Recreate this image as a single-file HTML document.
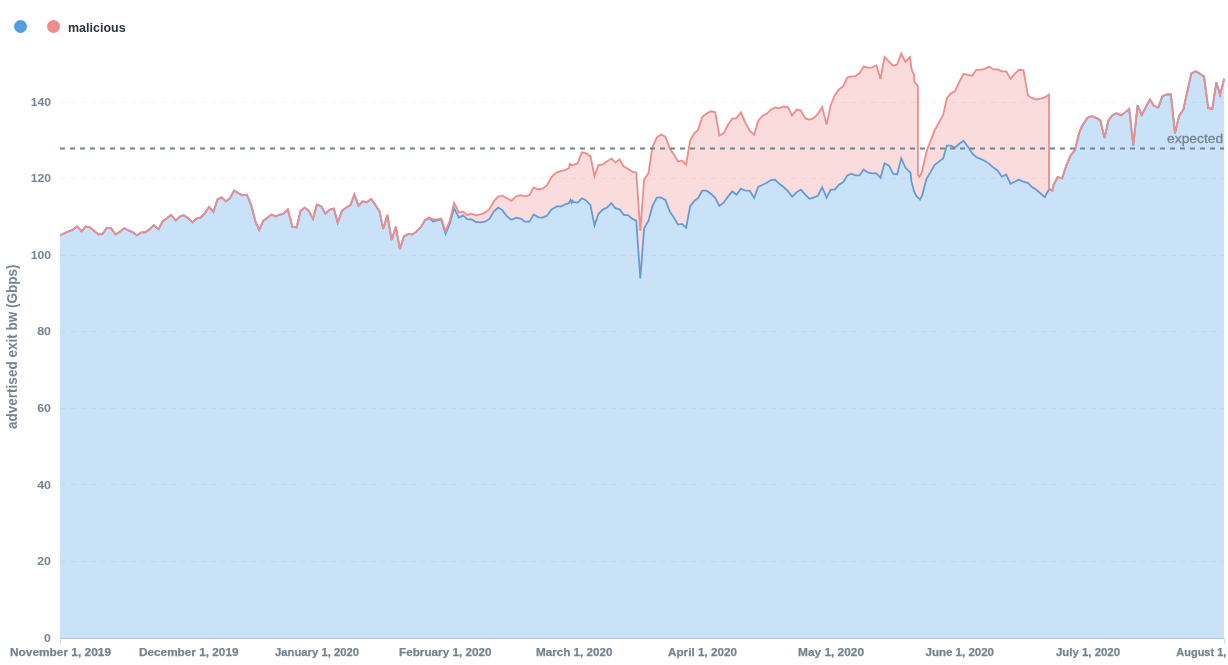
<!DOCTYPE html>
<html><head><meta charset="utf-8"><title>chart</title>
<style>
html,body{margin:0;padding:0;background:#fff;}
body{width:1228px;height:665px;overflow:hidden;font-family:"Liberation Sans",sans-serif;}
svg{display:block}
.tick{font-family:"Liberation Sans",sans-serif;font-weight:700;font-size:11.5px;fill:#74838f;stroke:#74838f;stroke-width:0.25px;}
.ytick{stroke:none;}
.leg{font-family:"Liberation Sans",sans-serif;font-weight:700;font-size:12.5px;fill:#2e353b;}
.ylab{font-family:"Liberation Sans",sans-serif;font-weight:700;font-size:14px;fill:#74838f;}
.goal{font-family:"Liberation Sans",sans-serif;font-weight:400;font-size:13px;fill:#74838f;stroke:#74838f;stroke-width:0.3px;}
</style></head><body>
<svg width="1228" height="665" viewBox="0 0 1228 665">
<rect width="1228" height="665" fill="#fff"/>
<circle cx="20.5" cy="26.5" r="6.5" fill="#509ee3"/>
<circle cx="53.5" cy="26.5" r="6.5" fill="#ef8c8c"/>
<text x="68" y="31.5" class="leg">malicious</text>
<g><line x1="61" x2="1224" y1="561.5" y2="561.5" stroke="#f0f2f5" stroke-width="1" stroke-dasharray="5,5"/>
<line x1="61" x2="1224" y1="484.5" y2="484.5" stroke="#f0f2f5" stroke-width="1" stroke-dasharray="5,5"/>
<line x1="61" x2="1224" y1="408.5" y2="408.5" stroke="#f0f2f5" stroke-width="1" stroke-dasharray="5,5"/>
<line x1="61" x2="1224" y1="331.5" y2="331.5" stroke="#f0f2f5" stroke-width="1" stroke-dasharray="5,5"/>
<line x1="61" x2="1224" y1="255.5" y2="255.5" stroke="#f0f2f5" stroke-width="1" stroke-dasharray="5,5"/>
<line x1="61" x2="1224" y1="178.5" y2="178.5" stroke="#f0f2f5" stroke-width="1" stroke-dasharray="5,5"/>
<line x1="61" x2="1224" y1="102.5" y2="102.5" stroke="#f0f2f5" stroke-width="1" stroke-dasharray="5,5"/>
</g>
<polyline points="60.0,235.2 64.3,233.3 68.5,231.4 72.8,229.6 77.1,226.4 81.7,231.4 85.7,226.4 89.9,227.4 94.0,230.8 98.6,234.6 102.7,233.7 106.8,227.7 111.2,228.3 115.6,234.6 120.0,231.4 124.3,228.3 128.5,230.4 132.5,232.1 136.9,235.5 141.3,232.3 145.3,232.3 149.4,229.6 153.8,225.2 158.6,229.2 162.6,221.4 166.9,218.3 171.1,214.9 175.8,220.5 180.2,216.4 183.9,215.2 188.1,218.3 192.4,222.4 197.1,218.3 200.8,217.4 204.6,213.6 209.0,207.0 213.4,212.0 217.5,199.5 221.6,197.4 225.9,201.4 230.0,198.2 234.1,190.5 238.5,193.2 242.6,195.3 246.9,194.7 251.2,205.1 255.4,221.4 259.2,230.0 263.2,220.8 267.3,217.7 271.5,214.5 275.7,216.4 279.9,214.5 283.3,213.9 287.8,209.5 292.4,226.7 296.6,227.4 300.6,210.8 304.7,207.6 308.8,210.8 313.0,218.9 316.9,204.5 321.3,206.4 325.4,213.7 329.8,209.5 333.8,208.6 337.7,222.7 341.9,210.8 346.3,207.4 350.5,205.1 354.4,194.4 358.5,205.7 362.5,201.3 366.9,202.3 371.1,199.1 375.1,204.5 379.5,211.4 383.2,228.9 387.4,214.9 391.6,240.0 395.8,226.7 399.9,249.0 403.9,236.4 408.3,233.9 412.4,234.6 416.5,231.4 420.9,227.0 425.0,220.2 429.0,217.9 433.1,221.4 437.2,220.4 441.3,219.5 445.6,233.9 449.9,223.3 454.1,208.2 458.9,217.6 463.1,215.4 467.3,219.1 471.6,219.5 476.0,222.0 480.4,222.4 484.8,221.7 489.4,218.9 493.8,211.4 498.2,207.6 502.4,210.1 507.0,216.3 511.5,219.8 516.2,217.6 520.6,218.6 525.0,221.6 529.4,221.6 533.7,214.4 538.4,217.3 542.5,217.6 546.9,215.7 551.5,209.4 555.0,207.5 557.0,206.2 560.9,206.5 564.8,204.5 568.7,203.2 570.6,199.7 571.6,202.6 572.6,200.6 573.9,202.1 577.8,202.6 581.7,198.4 585.6,199.9 590.5,205.2 594.5,225.4 598.3,214.0 602.6,209.6 607.1,207.5 611.4,203.2 615.3,208.1 619.5,209.4 624.1,215.0 628.0,215.1 632.5,218.9 636.3,220.7 640.3,278.4 644.1,228.2 648.5,220.7 652.3,206.4 656.7,197.6 661.0,197.4 665.4,199.9 669.8,211.4 673.6,217.0 678.0,224.6 682.0,223.9 686.1,227.7 690.1,206.4 694.3,200.7 698.0,198.2 702.2,190.7 706.6,190.7 711.0,193.8 715.2,197.9 719.4,205.8 723.8,202.4 728.1,196.3 732.3,191.3 736.5,194.7 740.9,188.6 745.5,190.7 749.8,190.7 754.1,197.9 758.2,186.9 762.6,184.8 766.8,182.8 771.2,179.8 775.2,179.8 779.3,183.8 783.6,186.9 788.0,191.1 792.1,196.6 796.8,192.1 800.9,189.6 805.3,194.6 809.3,198.7 813.4,197.7 817.8,195.9 822.2,187.1 826.6,197.7 830.7,189.6 834.8,189.6 838.9,184.6 843.2,182.1 847.3,175.4 851.4,173.7 855.5,175.4 859.5,175.4 863.6,169.5 868.0,172.4 872.0,173.3 876.4,173.3 880.5,177.7 884.5,163.2 888.9,165.4 893.1,173.7 897.1,174.5 901.2,158.2 905.4,167.6 910.6,172.9 911.5,181.4 912.5,185.2 914.1,191.5 916.3,195.9 920.0,199.6 922.2,195.2 926.3,179.2 930.4,172.4 934.5,165.1 938.9,161.6 943.1,158.5 946.8,145.7 950.8,145.7 954.9,147.6 959.2,143.8 963.6,140.7 967.7,146.3 972.1,153.2 976.2,157.0 980.5,158.9 984.6,160.7 989.0,163.6 993.4,167.6 997.6,170.4 1001.8,176.7 1006.2,174.5 1010.6,183.7 1014.7,181.7 1018.9,179.6 1023.5,181.7 1027.9,182.9 1032.0,187.1 1036.1,189.6 1040.4,193.3 1044.8,197.1 1049.0,189.2 1052.4,190.8 1053.6,184.9 1057.6,177.0 1062.1,178.3 1066.2,165.8 1070.5,155.7 1074.9,150.1 1079.3,132.5 1081.8,126.5 1087.5,117.7 1091.8,116.2 1096.0,117.9 1100.3,120.2 1104.5,138.0 1108.5,120.2 1112.5,115.2 1116.6,113.3 1121.0,115.4 1125.2,112.4 1129.2,109.1 1133.3,145.3 1137.6,105.1 1141.7,115.2 1145.9,107.0 1149.9,99.5 1153.9,105.8 1158.3,107.6 1162.4,96.1 1166.8,94.5 1170.9,94.5 1175.0,133.3 1179.1,115.8 1183.4,109.5 1187.5,90.7 1191.3,73.5 1195.4,71.3 1199.7,73.5 1204.0,76.5 1208.2,107.9 1212.3,108.9 1216.3,82.3 1220.1,94.8 1224.2,78.8" fill="none" stroke="#509ee3" stroke-width="1.8" stroke-linejoin="miter" stroke-linecap="butt"/>
<path d="M60,638 L60.0,235.2 L64.3,233.3 L68.5,231.4 L72.8,229.6 L77.1,226.4 L81.7,231.4 L85.7,226.4 L89.9,227.4 L94.0,230.8 L98.6,234.6 L102.7,233.7 L106.8,227.7 L111.2,228.3 L115.6,234.6 L120.0,231.4 L124.3,228.3 L128.5,230.4 L132.5,232.1 L136.9,235.5 L141.3,232.3 L145.3,232.3 L149.4,229.6 L153.8,225.2 L158.6,229.2 L162.6,221.4 L166.9,218.3 L171.1,214.9 L175.8,220.5 L180.2,216.4 L183.9,215.2 L188.1,218.3 L192.4,222.4 L197.1,218.3 L200.8,217.4 L204.6,213.6 L209.0,207.0 L213.4,212.0 L217.5,199.5 L221.6,197.4 L225.9,201.4 L230.0,198.2 L234.1,190.5 L238.5,193.2 L242.6,195.3 L246.9,194.7 L251.2,205.1 L255.4,221.4 L259.2,230.0 L263.2,220.8 L267.3,217.7 L271.5,214.5 L275.7,216.4 L279.9,214.5 L283.3,213.9 L287.8,209.5 L292.4,226.7 L296.6,227.4 L300.6,210.8 L304.7,207.6 L308.8,210.8 L313.0,218.9 L316.9,204.5 L321.3,206.4 L325.4,213.7 L329.8,209.5 L333.8,208.6 L337.7,222.7 L341.9,210.8 L346.3,207.4 L350.5,205.1 L354.4,194.4 L358.5,205.7 L362.5,201.3 L366.9,202.3 L371.1,199.1 L375.1,204.5 L379.5,211.4 L383.2,228.9 L387.4,214.9 L391.6,240.0 L395.8,226.7 L399.9,249.0 L403.9,236.4 L408.3,233.9 L412.4,234.6 L416.5,231.4 L420.9,227.0 L425.0,220.2 L429.0,217.9 L433.1,221.4 L437.2,220.4 L441.3,219.5 L445.6,233.9 L449.9,223.3 L454.1,208.2 L458.9,217.6 L463.1,215.4 L467.3,219.1 L471.6,219.5 L476.0,222.0 L480.4,222.4 L484.8,221.7 L489.4,218.9 L493.8,211.4 L498.2,207.6 L502.4,210.1 L507.0,216.3 L511.5,219.8 L516.2,217.6 L520.6,218.6 L525.0,221.6 L529.4,221.6 L533.7,214.4 L538.4,217.3 L542.5,217.6 L546.9,215.7 L551.5,209.4 L555.0,207.5 L557.0,206.2 L560.9,206.5 L564.8,204.5 L568.7,203.2 L570.6,199.7 L571.6,202.6 L572.6,200.6 L573.9,202.1 L577.8,202.6 L581.7,198.4 L585.6,199.9 L590.5,205.2 L594.5,225.4 L598.3,214.0 L602.6,209.6 L607.1,207.5 L611.4,203.2 L615.3,208.1 L619.5,209.4 L624.1,215.0 L628.0,215.1 L632.5,218.9 L636.3,220.7 L640.3,278.4 L644.1,228.2 L648.5,220.7 L652.3,206.4 L656.7,197.6 L661.0,197.4 L665.4,199.9 L669.8,211.4 L673.6,217.0 L678.0,224.6 L682.0,223.9 L686.1,227.7 L690.1,206.4 L694.3,200.7 L698.0,198.2 L702.2,190.7 L706.6,190.7 L711.0,193.8 L715.2,197.9 L719.4,205.8 L723.8,202.4 L728.1,196.3 L732.3,191.3 L736.5,194.7 L740.9,188.6 L745.5,190.7 L749.8,190.7 L754.1,197.9 L758.2,186.9 L762.6,184.8 L766.8,182.8 L771.2,179.8 L775.2,179.8 L779.3,183.8 L783.6,186.9 L788.0,191.1 L792.1,196.6 L796.8,192.1 L800.9,189.6 L805.3,194.6 L809.3,198.7 L813.4,197.7 L817.8,195.9 L822.2,187.1 L826.6,197.7 L830.7,189.6 L834.8,189.6 L838.9,184.6 L843.2,182.1 L847.3,175.4 L851.4,173.7 L855.5,175.4 L859.5,175.4 L863.6,169.5 L868.0,172.4 L872.0,173.3 L876.4,173.3 L880.5,177.7 L884.5,163.2 L888.9,165.4 L893.1,173.7 L897.1,174.5 L901.2,158.2 L905.4,167.6 L910.6,172.9 L911.5,181.4 L912.5,185.2 L914.1,191.5 L916.3,195.9 L920.0,199.6 L922.2,195.2 L926.3,179.2 L930.4,172.4 L934.5,165.1 L938.9,161.6 L943.1,158.5 L946.8,145.7 L950.8,145.7 L954.9,147.6 L959.2,143.8 L963.6,140.7 L967.7,146.3 L972.1,153.2 L976.2,157.0 L980.5,158.9 L984.6,160.7 L989.0,163.6 L993.4,167.6 L997.6,170.4 L1001.8,176.7 L1006.2,174.5 L1010.6,183.7 L1014.7,181.7 L1018.9,179.6 L1023.5,181.7 L1027.9,182.9 L1032.0,187.1 L1036.1,189.6 L1040.4,193.3 L1044.8,197.1 L1049.0,189.2 L1052.4,190.8 L1053.6,184.9 L1057.6,177.0 L1062.1,178.3 L1066.2,165.8 L1070.5,155.7 L1074.9,150.1 L1079.3,132.5 L1081.8,126.5 L1087.5,117.7 L1091.8,116.2 L1096.0,117.9 L1100.3,120.2 L1104.5,138.0 L1108.5,120.2 L1112.5,115.2 L1116.6,113.3 L1121.0,115.4 L1125.2,112.4 L1129.2,109.1 L1133.3,145.3 L1137.6,105.1 L1141.7,115.2 L1145.9,107.0 L1149.9,99.5 L1153.9,105.8 L1158.3,107.6 L1162.4,96.1 L1166.8,94.5 L1170.9,94.5 L1175.0,133.3 L1179.1,115.8 L1183.4,109.5 L1187.5,90.7 L1191.3,73.5 L1195.4,71.3 L1199.7,73.5 L1204.0,76.5 L1208.2,107.9 L1212.3,108.9 L1216.3,82.3 L1220.1,94.8 L1224.2,78.8 L1224,638 Z" fill="#509ee3" fill-opacity="0.3"/>
<polyline points="60.0,235.2 64.3,233.3 68.5,231.4 72.8,229.6 77.1,226.4 81.7,231.4 85.7,226.4 89.9,227.4 94.0,230.8 98.6,234.6 102.7,233.7 106.8,227.7 111.2,228.3 115.6,234.6 120.0,231.4 124.3,228.3 128.5,230.4 132.5,232.1 136.9,235.5 141.3,232.3 145.3,232.3 149.4,229.6 153.8,225.2 158.6,229.2 162.6,221.4 166.9,218.3 171.1,214.9 175.8,220.5 180.2,216.4 183.9,215.2 188.1,218.3 192.4,222.4 197.1,218.3 200.8,217.4 204.6,213.6 209.0,207.0 213.4,212.0 217.5,199.5 221.6,197.4 225.9,201.4 230.0,198.2 234.1,190.5 238.5,193.2 242.6,195.3 246.9,194.7 251.2,205.1 255.4,221.4 259.2,230.0 263.2,220.8 267.3,217.7 271.5,214.5 275.7,216.4 279.9,214.5 283.3,213.9 287.8,209.5 292.4,226.7 296.6,227.4 300.6,210.8 304.7,207.6 308.8,210.8 313.0,218.9 316.9,204.5 321.3,206.4 325.4,213.7 329.8,209.5 333.8,208.6 337.7,222.7 341.9,210.8 346.3,207.4 350.5,205.1 354.4,194.4 358.5,205.7 362.5,201.3 366.9,202.3 371.1,199.1 375.1,204.5 379.5,211.4 383.2,228.9 387.4,214.9 391.6,240.0 395.8,226.7 399.9,249.0 403.9,236.4 408.3,233.9 412.4,234.6 416.5,231.4 420.9,227.0 425.0,220.2 429.0,217.4 433.1,219.5 437.2,219.5 441.3,218.6 445.6,231.4 449.9,220.2 454.1,202.8 458.9,212.4 463.1,211.6 467.3,214.9 471.6,213.6 476.0,215.4 480.4,214.5 484.8,212.6 489.4,209.1 493.8,201.3 498.2,196.6 502.4,195.7 507.0,198.3 511.5,200.8 516.2,196.2 520.6,195.2 525.0,196.4 529.4,195.2 533.7,187.4 538.4,189.5 542.5,188.7 546.9,185.4 551.5,177.0 555.9,172.9 560.5,171.1 564.7,170.1 569.0,168.2 569.8,163.9 572.2,165.6 573.4,164.7 577.6,163.4 581.8,152.4 585.9,153.2 590.5,156.4 594.5,176.3 598.4,165.1 602.8,164.4 606.7,161.5 611.5,158.6 615.5,162.6 619.4,159.4 623.4,166.3 627.8,168.8 632.2,171.6 636.3,172.6 640.3,231.0 644.1,179.5 648.5,173.2 652.3,147.7 656.7,137.6 661.0,134.5 665.4,136.6 669.8,148.3 673.6,153.9 678.0,161.5 682.0,160.5 686.1,164.6 690.1,140.8 694.3,133.2 698.0,130.1 702.2,117.0 706.6,113.6 711.0,111.3 715.2,112.3 719.4,135.4 723.8,133.2 728.1,124.5 732.3,118.6 736.5,118.2 740.9,112.3 745.5,123.2 749.8,130.7 754.1,134.9 758.2,120.7 762.6,115.7 766.8,113.6 771.2,109.4 775.2,107.5 779.3,108.2 783.6,106.5 788.0,107.3 792.1,115.3 796.8,109.6 800.9,110.5 805.3,118.4 809.3,119.6 813.4,118.4 817.8,114.0 822.2,107.1 826.6,124.6 830.7,105.2 834.8,95.2 838.9,89.5 843.2,86.4 847.3,77.6 851.4,76.3 855.5,76.3 859.5,73.2 863.6,66.6 868.0,67.6 872.0,67.6 876.4,65.3 880.5,79.0 884.5,56.9 888.9,61.3 893.1,65.7 897.1,64.5 901.2,53.5 905.4,61.9 910.0,57.0 911.4,68.3 912.6,72.2 914.1,74.2 914.3,81.0 915.5,83.4 917.9,85.9 917.9,174.5 919.3,176.8 921.8,172.6 926.3,152.3 930.4,141.3 934.5,130.6 943.2,114.8 946.8,98.3 950.8,93.2 954.9,91.4 959.2,82.0 963.6,73.8 967.7,74.8 972.1,75.7 976.2,69.8 980.5,69.8 984.6,68.8 989.0,66.5 993.4,69.4 997.6,69.4 1001.8,71.3 1006.2,71.3 1010.6,78.6 1014.7,73.8 1018.9,69.8 1023.5,70.3 1027.9,95.4 1032.0,97.9 1036.1,99.5 1040.4,98.6 1044.8,97.4 1049.0,94.5 1049.0,188.3 1052.4,190.8 1053.6,184.9 1057.6,177.0 1062.1,178.3 1066.2,165.8 1070.5,155.7 1074.9,150.1 1079.3,132.5 1081.8,126.5 1087.5,117.7 1091.8,116.2 1096.0,117.9 1100.3,120.2 1104.5,138.0 1108.5,120.2 1112.5,115.2 1116.6,113.3 1121.0,115.4 1125.2,112.4 1129.2,109.1 1133.3,145.3 1137.6,105.1 1141.7,115.2 1145.9,107.0 1149.9,99.5 1153.9,105.8 1158.3,107.6 1162.4,96.1 1166.8,94.5 1170.9,94.5 1175.0,133.3 1179.1,115.8 1183.4,109.5 1187.5,90.7 1191.3,73.5 1195.4,71.3 1199.7,73.5 1204.0,76.5 1208.2,107.9 1212.3,108.9 1216.3,82.3 1220.1,94.8 1224.2,78.8" fill="none" stroke="#ef8c8c" stroke-width="1.8" stroke-linejoin="miter" stroke-linecap="butt"/>
<path d="M60.0,235.2 L64.3,233.3 L68.5,231.4 L72.8,229.6 L77.1,226.4 L81.7,231.4 L85.7,226.4 L89.9,227.4 L94.0,230.8 L98.6,234.6 L102.7,233.7 L106.8,227.7 L111.2,228.3 L115.6,234.6 L120.0,231.4 L124.3,228.3 L128.5,230.4 L132.5,232.1 L136.9,235.5 L141.3,232.3 L145.3,232.3 L149.4,229.6 L153.8,225.2 L158.6,229.2 L162.6,221.4 L166.9,218.3 L171.1,214.9 L175.8,220.5 L180.2,216.4 L183.9,215.2 L188.1,218.3 L192.4,222.4 L197.1,218.3 L200.8,217.4 L204.6,213.6 L209.0,207.0 L213.4,212.0 L217.5,199.5 L221.6,197.4 L225.9,201.4 L230.0,198.2 L234.1,190.5 L238.5,193.2 L242.6,195.3 L246.9,194.7 L251.2,205.1 L255.4,221.4 L259.2,230.0 L263.2,220.8 L267.3,217.7 L271.5,214.5 L275.7,216.4 L279.9,214.5 L283.3,213.9 L287.8,209.5 L292.4,226.7 L296.6,227.4 L300.6,210.8 L304.7,207.6 L308.8,210.8 L313.0,218.9 L316.9,204.5 L321.3,206.4 L325.4,213.7 L329.8,209.5 L333.8,208.6 L337.7,222.7 L341.9,210.8 L346.3,207.4 L350.5,205.1 L354.4,194.4 L358.5,205.7 L362.5,201.3 L366.9,202.3 L371.1,199.1 L375.1,204.5 L379.5,211.4 L383.2,228.9 L387.4,214.9 L391.6,240.0 L395.8,226.7 L399.9,249.0 L403.9,236.4 L408.3,233.9 L412.4,234.6 L416.5,231.4 L420.9,227.0 L425.0,220.2 L429.0,217.4 L433.1,219.5 L437.2,219.5 L441.3,218.6 L445.6,231.4 L449.9,220.2 L454.1,202.8 L458.9,212.4 L463.1,211.6 L467.3,214.9 L471.6,213.6 L476.0,215.4 L480.4,214.5 L484.8,212.6 L489.4,209.1 L493.8,201.3 L498.2,196.6 L502.4,195.7 L507.0,198.3 L511.5,200.8 L516.2,196.2 L520.6,195.2 L525.0,196.4 L529.4,195.2 L533.7,187.4 L538.4,189.5 L542.5,188.7 L546.9,185.4 L551.5,177.0 L555.9,172.9 L560.5,171.1 L564.7,170.1 L569.0,168.2 L569.8,163.9 L572.2,165.6 L573.4,164.7 L577.6,163.4 L581.8,152.4 L585.9,153.2 L590.5,156.4 L594.5,176.3 L598.4,165.1 L602.8,164.4 L606.7,161.5 L611.5,158.6 L615.5,162.6 L619.4,159.4 L623.4,166.3 L627.8,168.8 L632.2,171.6 L636.3,172.6 L640.3,231.0 L644.1,179.5 L648.5,173.2 L652.3,147.7 L656.7,137.6 L661.0,134.5 L665.4,136.6 L669.8,148.3 L673.6,153.9 L678.0,161.5 L682.0,160.5 L686.1,164.6 L690.1,140.8 L694.3,133.2 L698.0,130.1 L702.2,117.0 L706.6,113.6 L711.0,111.3 L715.2,112.3 L719.4,135.4 L723.8,133.2 L728.1,124.5 L732.3,118.6 L736.5,118.2 L740.9,112.3 L745.5,123.2 L749.8,130.7 L754.1,134.9 L758.2,120.7 L762.6,115.7 L766.8,113.6 L771.2,109.4 L775.2,107.5 L779.3,108.2 L783.6,106.5 L788.0,107.3 L792.1,115.3 L796.8,109.6 L800.9,110.5 L805.3,118.4 L809.3,119.6 L813.4,118.4 L817.8,114.0 L822.2,107.1 L826.6,124.6 L830.7,105.2 L834.8,95.2 L838.9,89.5 L843.2,86.4 L847.3,77.6 L851.4,76.3 L855.5,76.3 L859.5,73.2 L863.6,66.6 L868.0,67.6 L872.0,67.6 L876.4,65.3 L880.5,79.0 L884.5,56.9 L888.9,61.3 L893.1,65.7 L897.1,64.5 L901.2,53.5 L905.4,61.9 L910.0,57.0 L911.4,68.3 L912.6,72.2 L914.1,74.2 L914.3,81.0 L915.5,83.4 L917.9,85.9 L917.9,174.5 L919.3,176.8 L921.8,172.6 L926.3,152.3 L930.4,141.3 L934.5,130.6 L943.2,114.8 L946.8,98.3 L950.8,93.2 L954.9,91.4 L959.2,82.0 L963.6,73.8 L967.7,74.8 L972.1,75.7 L976.2,69.8 L980.5,69.8 L984.6,68.8 L989.0,66.5 L993.4,69.4 L997.6,69.4 L1001.8,71.3 L1006.2,71.3 L1010.6,78.6 L1014.7,73.8 L1018.9,69.8 L1023.5,70.3 L1027.9,95.4 L1032.0,97.9 L1036.1,99.5 L1040.4,98.6 L1044.8,97.4 L1049.0,94.5 L1049.0,188.3 L1052.4,190.8 L1053.6,184.9 L1057.6,177.0 L1062.1,178.3 L1066.2,165.8 L1070.5,155.7 L1074.9,150.1 L1079.3,132.5 L1081.8,126.5 L1087.5,117.7 L1091.8,116.2 L1096.0,117.9 L1100.3,120.2 L1104.5,138.0 L1108.5,120.2 L1112.5,115.2 L1116.6,113.3 L1121.0,115.4 L1125.2,112.4 L1129.2,109.1 L1133.3,145.3 L1137.6,105.1 L1141.7,115.2 L1145.9,107.0 L1149.9,99.5 L1153.9,105.8 L1158.3,107.6 L1162.4,96.1 L1166.8,94.5 L1170.9,94.5 L1175.0,133.3 L1179.1,115.8 L1183.4,109.5 L1187.5,90.7 L1191.3,73.5 L1195.4,71.3 L1199.7,73.5 L1204.0,76.5 L1208.2,107.9 L1212.3,108.9 L1216.3,82.3 L1220.1,94.8 L1224.2,78.8 L1224.2,78.8 L1220.1,94.8 L1216.3,82.3 L1212.3,108.9 L1208.2,107.9 L1204.0,76.5 L1199.7,73.5 L1195.4,71.3 L1191.3,73.5 L1187.5,90.7 L1183.4,109.5 L1179.1,115.8 L1175.0,133.3 L1170.9,94.5 L1166.8,94.5 L1162.4,96.1 L1158.3,107.6 L1153.9,105.8 L1149.9,99.5 L1145.9,107.0 L1141.7,115.2 L1137.6,105.1 L1133.3,145.3 L1129.2,109.1 L1125.2,112.4 L1121.0,115.4 L1116.6,113.3 L1112.5,115.2 L1108.5,120.2 L1104.5,138.0 L1100.3,120.2 L1096.0,117.9 L1091.8,116.2 L1087.5,117.7 L1081.8,126.5 L1079.3,132.5 L1074.9,150.1 L1070.5,155.7 L1066.2,165.8 L1062.1,178.3 L1057.6,177.0 L1053.6,184.9 L1052.4,190.8 L1049.0,189.2 L1044.8,197.1 L1040.4,193.3 L1036.1,189.6 L1032.0,187.1 L1027.9,182.9 L1023.5,181.7 L1018.9,179.6 L1014.7,181.7 L1010.6,183.7 L1006.2,174.5 L1001.8,176.7 L997.6,170.4 L993.4,167.6 L989.0,163.6 L984.6,160.7 L980.5,158.9 L976.2,157.0 L972.1,153.2 L967.7,146.3 L963.6,140.7 L959.2,143.8 L954.9,147.6 L950.8,145.7 L946.8,145.7 L943.1,158.5 L938.9,161.6 L934.5,165.1 L930.4,172.4 L926.3,179.2 L922.2,195.2 L920.0,199.6 L916.3,195.9 L914.1,191.5 L912.5,185.2 L911.5,181.4 L910.6,172.9 L905.4,167.6 L901.2,158.2 L897.1,174.5 L893.1,173.7 L888.9,165.4 L884.5,163.2 L880.5,177.7 L876.4,173.3 L872.0,173.3 L868.0,172.4 L863.6,169.5 L859.5,175.4 L855.5,175.4 L851.4,173.7 L847.3,175.4 L843.2,182.1 L838.9,184.6 L834.8,189.6 L830.7,189.6 L826.6,197.7 L822.2,187.1 L817.8,195.9 L813.4,197.7 L809.3,198.7 L805.3,194.6 L800.9,189.6 L796.8,192.1 L792.1,196.6 L788.0,191.1 L783.6,186.9 L779.3,183.8 L775.2,179.8 L771.2,179.8 L766.8,182.8 L762.6,184.8 L758.2,186.9 L754.1,197.9 L749.8,190.7 L745.5,190.7 L740.9,188.6 L736.5,194.7 L732.3,191.3 L728.1,196.3 L723.8,202.4 L719.4,205.8 L715.2,197.9 L711.0,193.8 L706.6,190.7 L702.2,190.7 L698.0,198.2 L694.3,200.7 L690.1,206.4 L686.1,227.7 L682.0,223.9 L678.0,224.6 L673.6,217.0 L669.8,211.4 L665.4,199.9 L661.0,197.4 L656.7,197.6 L652.3,206.4 L648.5,220.7 L644.1,228.2 L640.3,278.4 L636.3,220.7 L632.5,218.9 L628.0,215.1 L624.1,215.0 L619.5,209.4 L615.3,208.1 L611.4,203.2 L607.1,207.5 L602.6,209.6 L598.3,214.0 L594.5,225.4 L590.5,205.2 L585.6,199.9 L581.7,198.4 L577.8,202.6 L573.9,202.1 L572.6,200.6 L571.6,202.6 L570.6,199.7 L568.7,203.2 L564.8,204.5 L560.9,206.5 L557.0,206.2 L555.0,207.5 L551.5,209.4 L546.9,215.7 L542.5,217.6 L538.4,217.3 L533.7,214.4 L529.4,221.6 L525.0,221.6 L520.6,218.6 L516.2,217.6 L511.5,219.8 L507.0,216.3 L502.4,210.1 L498.2,207.6 L493.8,211.4 L489.4,218.9 L484.8,221.7 L480.4,222.4 L476.0,222.0 L471.6,219.5 L467.3,219.1 L463.1,215.4 L458.9,217.6 L454.1,208.2 L449.9,223.3 L445.6,233.9 L441.3,219.5 L437.2,220.4 L433.1,221.4 L429.0,217.9 L425.0,220.2 L420.9,227.0 L416.5,231.4 L412.4,234.6 L408.3,233.9 L403.9,236.4 L399.9,249.0 L395.8,226.7 L391.6,240.0 L387.4,214.9 L383.2,228.9 L379.5,211.4 L375.1,204.5 L371.1,199.1 L366.9,202.3 L362.5,201.3 L358.5,205.7 L354.4,194.4 L350.5,205.1 L346.3,207.4 L341.9,210.8 L337.7,222.7 L333.8,208.6 L329.8,209.5 L325.4,213.7 L321.3,206.4 L316.9,204.5 L313.0,218.9 L308.8,210.8 L304.7,207.6 L300.6,210.8 L296.6,227.4 L292.4,226.7 L287.8,209.5 L283.3,213.9 L279.9,214.5 L275.7,216.4 L271.5,214.5 L267.3,217.7 L263.2,220.8 L259.2,230.0 L255.4,221.4 L251.2,205.1 L246.9,194.7 L242.6,195.3 L238.5,193.2 L234.1,190.5 L230.0,198.2 L225.9,201.4 L221.6,197.4 L217.5,199.5 L213.4,212.0 L209.0,207.0 L204.6,213.6 L200.8,217.4 L197.1,218.3 L192.4,222.4 L188.1,218.3 L183.9,215.2 L180.2,216.4 L175.8,220.5 L171.1,214.9 L166.9,218.3 L162.6,221.4 L158.6,229.2 L153.8,225.2 L149.4,229.6 L145.3,232.3 L141.3,232.3 L136.9,235.5 L132.5,232.1 L128.5,230.4 L124.3,228.3 L120.0,231.4 L115.6,234.6 L111.2,228.3 L106.8,227.7 L102.7,233.7 L98.6,234.6 L94.0,230.8 L89.9,227.4 L85.7,226.4 L81.7,231.4 L77.1,226.4 L72.8,229.6 L68.5,231.4 L64.3,233.3 L60.0,235.2 Z" fill="#ef8c8c" fill-opacity="0.3"/>
<line x1="60" x2="1224" y1="148.5" y2="148.5" stroke="#74838f" stroke-width="2" stroke-dasharray="5,5"/>
<text x="1167.1" y="143.2" textLength="56" lengthAdjust="spacingAndGlyphs" class="goal">expected</text>
<line x1="60" x2="1224.5" y1="638.5" y2="638.5" stroke="#b9c3d3" stroke-width="1"/>
<line x1="60.5" x2="60.5" y1="639" y2="643.5" stroke="#d3dae2" stroke-width="1"/>
<line x1="1224.5" x2="1224.5" y1="639" y2="643.5" stroke="#d3dae2" stroke-width="1"/>
<text x="44.1" y="641.7" textLength="6.9" lengthAdjust="spacingAndGlyphs" class="tick ytick">0</text>
<text x="37.2" y="565.1" textLength="13.8" lengthAdjust="spacingAndGlyphs" class="tick ytick">20</text>
<text x="37.2" y="488.5" textLength="13.8" lengthAdjust="spacingAndGlyphs" class="tick ytick">40</text>
<text x="37.2" y="411.9" textLength="13.8" lengthAdjust="spacingAndGlyphs" class="tick ytick">60</text>
<text x="37.2" y="335.3" textLength="13.8" lengthAdjust="spacingAndGlyphs" class="tick ytick">80</text>
<text x="30.7" y="258.7" textLength="20.3" lengthAdjust="spacingAndGlyphs" class="tick ytick">100</text>
<text x="30.7" y="182.1" textLength="20.3" lengthAdjust="spacingAndGlyphs" class="tick ytick">120</text>
<text x="30.7" y="105.5" textLength="20.3" lengthAdjust="spacingAndGlyphs" class="tick ytick">140</text>

<text x="10" y="656" textLength="101" lengthAdjust="spacingAndGlyphs" class="tick">November 1, 2019</text>
<text x="139" y="656" textLength="99.5" lengthAdjust="spacingAndGlyphs" class="tick">December 1, 2019</text>
<text x="275" y="656" textLength="84" lengthAdjust="spacingAndGlyphs" class="tick">January 1, 2020</text>
<text x="399" y="656" textLength="92.5" lengthAdjust="spacingAndGlyphs" class="tick">February 1, 2020</text>
<text x="536" y="656" textLength="76.5" lengthAdjust="spacingAndGlyphs" class="tick">March 1, 2020</text>
<text x="668" y="656" textLength="69" lengthAdjust="spacingAndGlyphs" class="tick">April 1, 2020</text>
<text x="798" y="656" textLength="66" lengthAdjust="spacingAndGlyphs" class="tick">May 1, 2020</text>
<text x="925.5" y="656" textLength="68.5" lengthAdjust="spacingAndGlyphs" class="tick">June 1, 2020</text>
<text x="1056" y="656" textLength="64" lengthAdjust="spacingAndGlyphs" class="tick">July 1, 2020</text>
<text x="1176.3" y="656" textLength="77.5" lengthAdjust="spacingAndGlyphs" class="tick">August 1, 2020</text>

<text transform="translate(16.5,346.7) rotate(-90)" text-anchor="middle" textLength="164.6" lengthAdjust="spacingAndGlyphs" class="ylab">advertised exit bw (Gbps)</text>
</svg>
</body></html>
